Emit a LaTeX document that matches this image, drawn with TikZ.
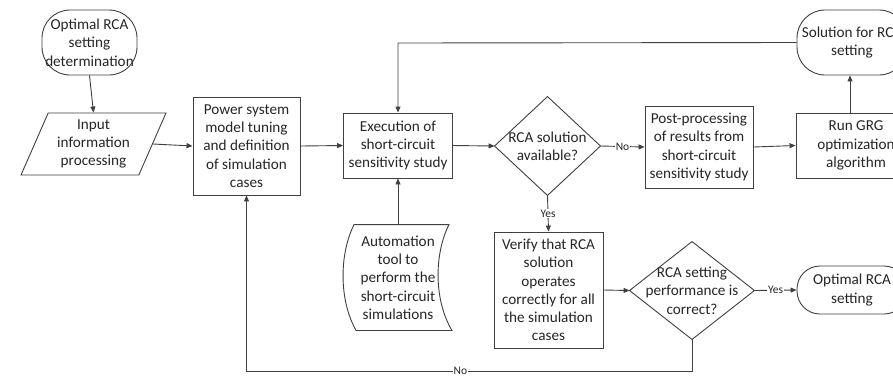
\documentclass[tikz,border=0pt]{standalone}
\usepackage{fontspec}
\setmainfont{Carlito}
\usetikzlibrary{arrows.meta,shapes.geometric,calc}
\begin{document}
\begin{tikzpicture}[x=1pt,y=-1pt,
  line width=0.9pt,
  txt/.style={font=\fontsize{15.2}{18.3}\selectfont, text=black!85, align=center, inner sep=0pt},
  box/.style={txt, draw=black!75, rectangle},
  term/.style={txt, draw=black!75, rounded corners=28pt},
  ghost/.style={txt, rectangle},
  conn/.style={draw=black!75, -{Triangle[length=6pt,width=5pt]}},
  lbl/.style={font=\fontsize{11.5}{13}\selectfont, text=black!85, fill=white, inner sep=1pt}]
\path[use as bounding box, clip] (0,0) rectangle (893,376);
\fill[white] (0,0) rectangle (893,376);

% nodes
\node[term, minimum width=95pt, minimum height=65pt] (start) at (89.5,42.5) {Optimal RCA\\setting\\determination};
\node[txt, draw=black!75, trapezium, trapezium left angle=66, trapezium right angle=114,
      trapezium stretches=true, minimum width=145pt, minimum height=62pt] (input) at (93.5,144) {Input\\information\\processing};
\node[box, minimum width=107pt, minimum height=98pt] (power) at (246.5,146) {Power system\\model tuning\\and definition\\of simulation\\cases};
\node[box, minimum width=109pt, minimum height=65pt] (exec) at (398,145.5) {Execution of\\short-circuit\\sensitivity study};
\node[ghost, minimum width=105pt, minimum height=98pt] (d1) at (547.5,146) {RCA solution\\available?};
\node[box, minimum width=108pt, minimum height=82pt] (post) at (699,147) {Post-processing\\of results from\\short-circuit\\sensitivity study};
\node[box, minimum width=120pt, minimum height=65pt] (grg) at (856,145.5) {Run GRG\\optimization\\algorithm};
\node[term, minimum width=110pt, minimum height=65pt] (sol) at (852,42.5) {Solution for RCA\\setting};
\node[ghost, minimum width=107pt, minimum height=105pt] (auto) at (398,277.5) {Automation\\tool to\\perform the\\short-circuit\\simulations};
\node[box, minimum width=109pt, minimum height=116pt] (verify) at (548.5,290) {Verify that RCA\\solution\\operates\\correctly for all\\the simulation\\cases};
\node[ghost, minimum width=124pt, minimum height=97pt] (d2) at (692,290.5) {RCA setting\\performance is\\correct?};
\node[term, rounded corners=23pt, minimum width=110pt, minimum height=48pt] (opt) at (852,290) {Optimal RCA\\setting};
\coordinate (topy) at (0,43);
\coordinate (boty) at (0,371);

% decision shapes
\draw[black!75] (d1.north) -- (d1.east) -- (d1.south) -- (d1.west) -- cycle;
\draw[black!75] (d2.north) -- (d2.east) -- (d2.south) -- (d2.west) -- cycle;
% stored data shape
\draw[black!75]
  ($(auto.north west)+(10,0)$) -- ($(auto.north east)+(-3,0)$)
  .. controls ($(auto.north east)+(-18,30)$) and ($(auto.south east)+(-18,-30)$) .. (auto.south east)
  -- ($(auto.south west)+(12,0)$)
  .. controls ($(auto.south west)+(-5,-30)$) and ($(auto.north west)+(-5,30)$) .. ($(auto.north west)+(10,0)$) -- cycle;

% connectors
\draw[conn] (start.south) -- (input.north);
\draw[conn] (input.east) -- (power.west);
\draw[conn] (power.east) -- (exec.west);
\draw[conn] (exec.east) -- (d1.west);
\draw[conn] (d1.east) -- node[lbl] {No} (post.west);
\draw[conn] (post.east) -- (grg.west);
\draw[conn] (grg.north -| 850,0) -- (sol.south -| 850,0);
\draw[conn] (sol.west) -- (exec.north |- topy) -- (exec.north);
\draw[conn] (auto.north) -- (exec.south);
\draw[conn] (d1.south) -- node[lbl] {Yes} (verify.north);
\draw[conn] (verify.east) -- (d2.west);
\draw[conn] (d2.east) -- node[lbl] {Yes} (opt.west);
\draw[conn] (d2.south) -- (d2.south |- boty) -- node[lbl, pos=0.52] {No} (power.south |- boty) -- (power.south);
\end{tikzpicture}
\end{document}
